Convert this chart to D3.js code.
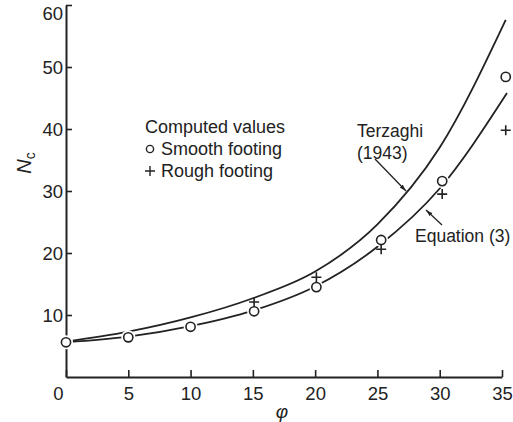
<!DOCTYPE html>
<html lang="en">
<head>
<meta charset="utf-8">
<title>Nc vs phi</title>
<script src="https://cdn.jsdelivr.net/npm/d3@7"></script>
<style>
  body { margin: 0; background: #fff; }
  svg text { font-family: "Liberation Sans", Arial, sans-serif; fill: #222; }
</style>
</head>
<body>
<div id="chart"></div>
<script>
// curve data
var terzPhi = [0, 5, 10, 15, 20, 25, 30, 35.3];
var terzNc  = [5.7, 7.3, 9.6, 12.7, 17.0, 24.6, 37.0, 57.6];
var eqPhi   = [0, 5, 10, 15, 20, 25, 30, 35.4];
var eqNc    = [5.6, 6.5, 8.2, 10.7, 14.6, 21.0, 30.4, 45.8];

// computed values (markers)
var smoothPhi = [0, 5, 10, 15.1, 20.1, 25.3, 30.2, 35.3];
var smoothNc  = [5.6, 6.4, 8.1, 10.6, 14.5, 22.1, 31.6, 48.4];
var roughPhi  = [15.1, 20.1, 25.3, 30.2, 35.3];
var roughNc   = [12.1, 16.1, 20.6, 29.5, 39.8];

var xTicks = [0, 5, 10, 15, 20, 25, 30, 35];
var yTicks = [10, 20, 30, 40, 50, 60];

var W = 513, H = 422;
var svg = d3.select("#chart").append("svg")
    .attr("width", W).attr("height", H);

var x = d3.scaleLinear().domain([0, 35]).range([66, 502]);
var y = d3.scaleLinear().domain([0, 60]).range([377, 5]);

var ink = "#222";

// axes
var xAxis = svg.append("g")
    .attr("transform", "translate(0," + y(0) + ")")
    .call(d3.axisBottom(x).tickValues(xTicks).tickSizeInner(-7).tickSizeOuter(0).tickPadding(14));
var yAxis = svg.append("g")
    .attr("transform", "translate(" + x(0) + ",0)")
    .call(d3.axisLeft(y).tickValues(yTicks).tickSizeInner(-6).tickSizeOuter(0).tickPadding(3));

[xAxis, yAxis].forEach(function(g) {
  g.select(".domain").attr("stroke", ink).attr("stroke-width", 2);
  g.selectAll(".tick line").attr("stroke", ink).attr("stroke-width", 1.6);
  g.selectAll(".tick text").attr("font-size", 18.5).attr("fill", ink)
    .style("font-family", "Liberation Sans, Arial, sans-serif");
});
xAxis.selectAll(".tick text").attr("dy", "0.5em");
// the 0 sits a little left of the axis
xAxis.selectAll(".tick").filter(function(d) { return d === 0; })
    .select("text").attr("x", -8);
yAxis.selectAll(".tick text").attr("dy", "0.36em");
// 60 hangs just below the top of the axis
yAxis.selectAll(".tick").filter(function(d) { return d === 60; })
    .select("text").attr("dy", "0.8em");

// curves
var line = d3.line()
    .x(function(d) { return x(d[0]); })
    .y(function(d) { return y(d[1]); })
    .curve(d3.curveMonotoneX);

svg.append("path")
    .datum(d3.zip(terzPhi, terzNc))
    .attr("fill", "none").attr("stroke", ink).attr("stroke-width", 1.8)
    .attr("d", line);
svg.append("path")
    .datum(d3.zip(eqPhi, eqNc))
    .attr("fill", "none").attr("stroke", ink).attr("stroke-width", 1.8)
    .attr("d", line);

// markers: white halo makes the gap in the curve
var smooth = d3.zip(smoothPhi, smoothNc);
svg.selectAll(".halo").data(smooth).enter().append("circle")
    .attr("cx", function(d) { return x(d[0]); })
    .attr("cy", function(d) { return y(d[1]); })
    .attr("r", 7).attr("fill", "#fff");
svg.selectAll(".smooth").data(smooth).enter().append("circle")
    .attr("cx", function(d) { return x(d[0]); })
    .attr("cy", function(d) { return y(d[1]); })
    .attr("r", 4.6).attr("fill", "#fff").attr("stroke", ink).attr("stroke-width", 1.6);

svg.selectAll(".rough").data(d3.zip(roughPhi, roughNc)).enter().append("path")
    .attr("transform", function(d) { return "translate(" + x(d[0]) + "," + y(d[1]) + ")"; })
    .attr("d", "M-5,0H5M0,-5V5")
    .attr("stroke", ink).attr("stroke-width", 1.6).attr("fill", "none");

// axis titles
svg.append("text").attr("x", 282).attr("y", 418)
    .attr("text-anchor", "middle").attr("font-size", 19).style("font-style", "italic")
    .text("\u03c6");
var ylab = svg.append("text")
    .attr("transform", "translate(31,163) rotate(-90)")
    .attr("text-anchor", "middle").attr("font-size", 20);
ylab.append("tspan").style("font-style", "italic").text("N");
ylab.append("tspan").attr("font-size", 14).attr("dy", 4).text("c");

// legend text
var legend = svg.append("g").attr("font-size", 18);
legend.append("text").attr("x", 145).attr("y", 133).text("Computed values");
legend.append("circle").attr("cx", 150).attr("cy", 149).attr("r", 3.6)
    .attr("fill", "none").attr("stroke", ink).attr("stroke-width", 1.4);
legend.append("text").attr("x", 161).attr("y", 155).text("Smooth footing");
legend.append("path").attr("d", "M145,171H155M150,166V176")
    .attr("stroke", ink).attr("stroke-width", 1.4);
legend.append("text").attr("x", 161).attr("y", 177).text("Rough footing");

// curve labels with arrows
svg.append("text").attr("x", 357).attr("y", 137).attr("font-size", 17.5).text("Terzaghi");
svg.append("text").attr("x", 357).attr("y", 159).attr("font-size", 17.5).text("(1943)");
svg.append("text").attr("x", 415).attr("y", 242).attr("font-size", 17.5).text("Equation (3)");

var defs = svg.append("defs");
defs.append("marker").attr("id", "arr")
    .attr("viewBox", "0 0 10 10").attr("refX", 10).attr("refY", 5)
    .attr("markerWidth", 7).attr("markerHeight", 7).attr("orient", "auto")
    .attr("markerUnits", "userSpaceOnUse")
  .append("path").attr("d", "M0,2L10,5L0,8z").attr("fill", ink);

svg.append("line").attr("x1", 375).attr("y1", 159).attr("x2", 406).attr("y2", 191)
    .attr("stroke", ink).attr("stroke-width", 1.3).attr("marker-end", "url(#arr)");
svg.append("line").attr("x1", 442).attr("y1", 225).attr("x2", 426).attr("y2", 210)
    .attr("stroke", ink).attr("stroke-width", 1.3).attr("marker-end", "url(#arr)");
</script>
</body>
</html>
